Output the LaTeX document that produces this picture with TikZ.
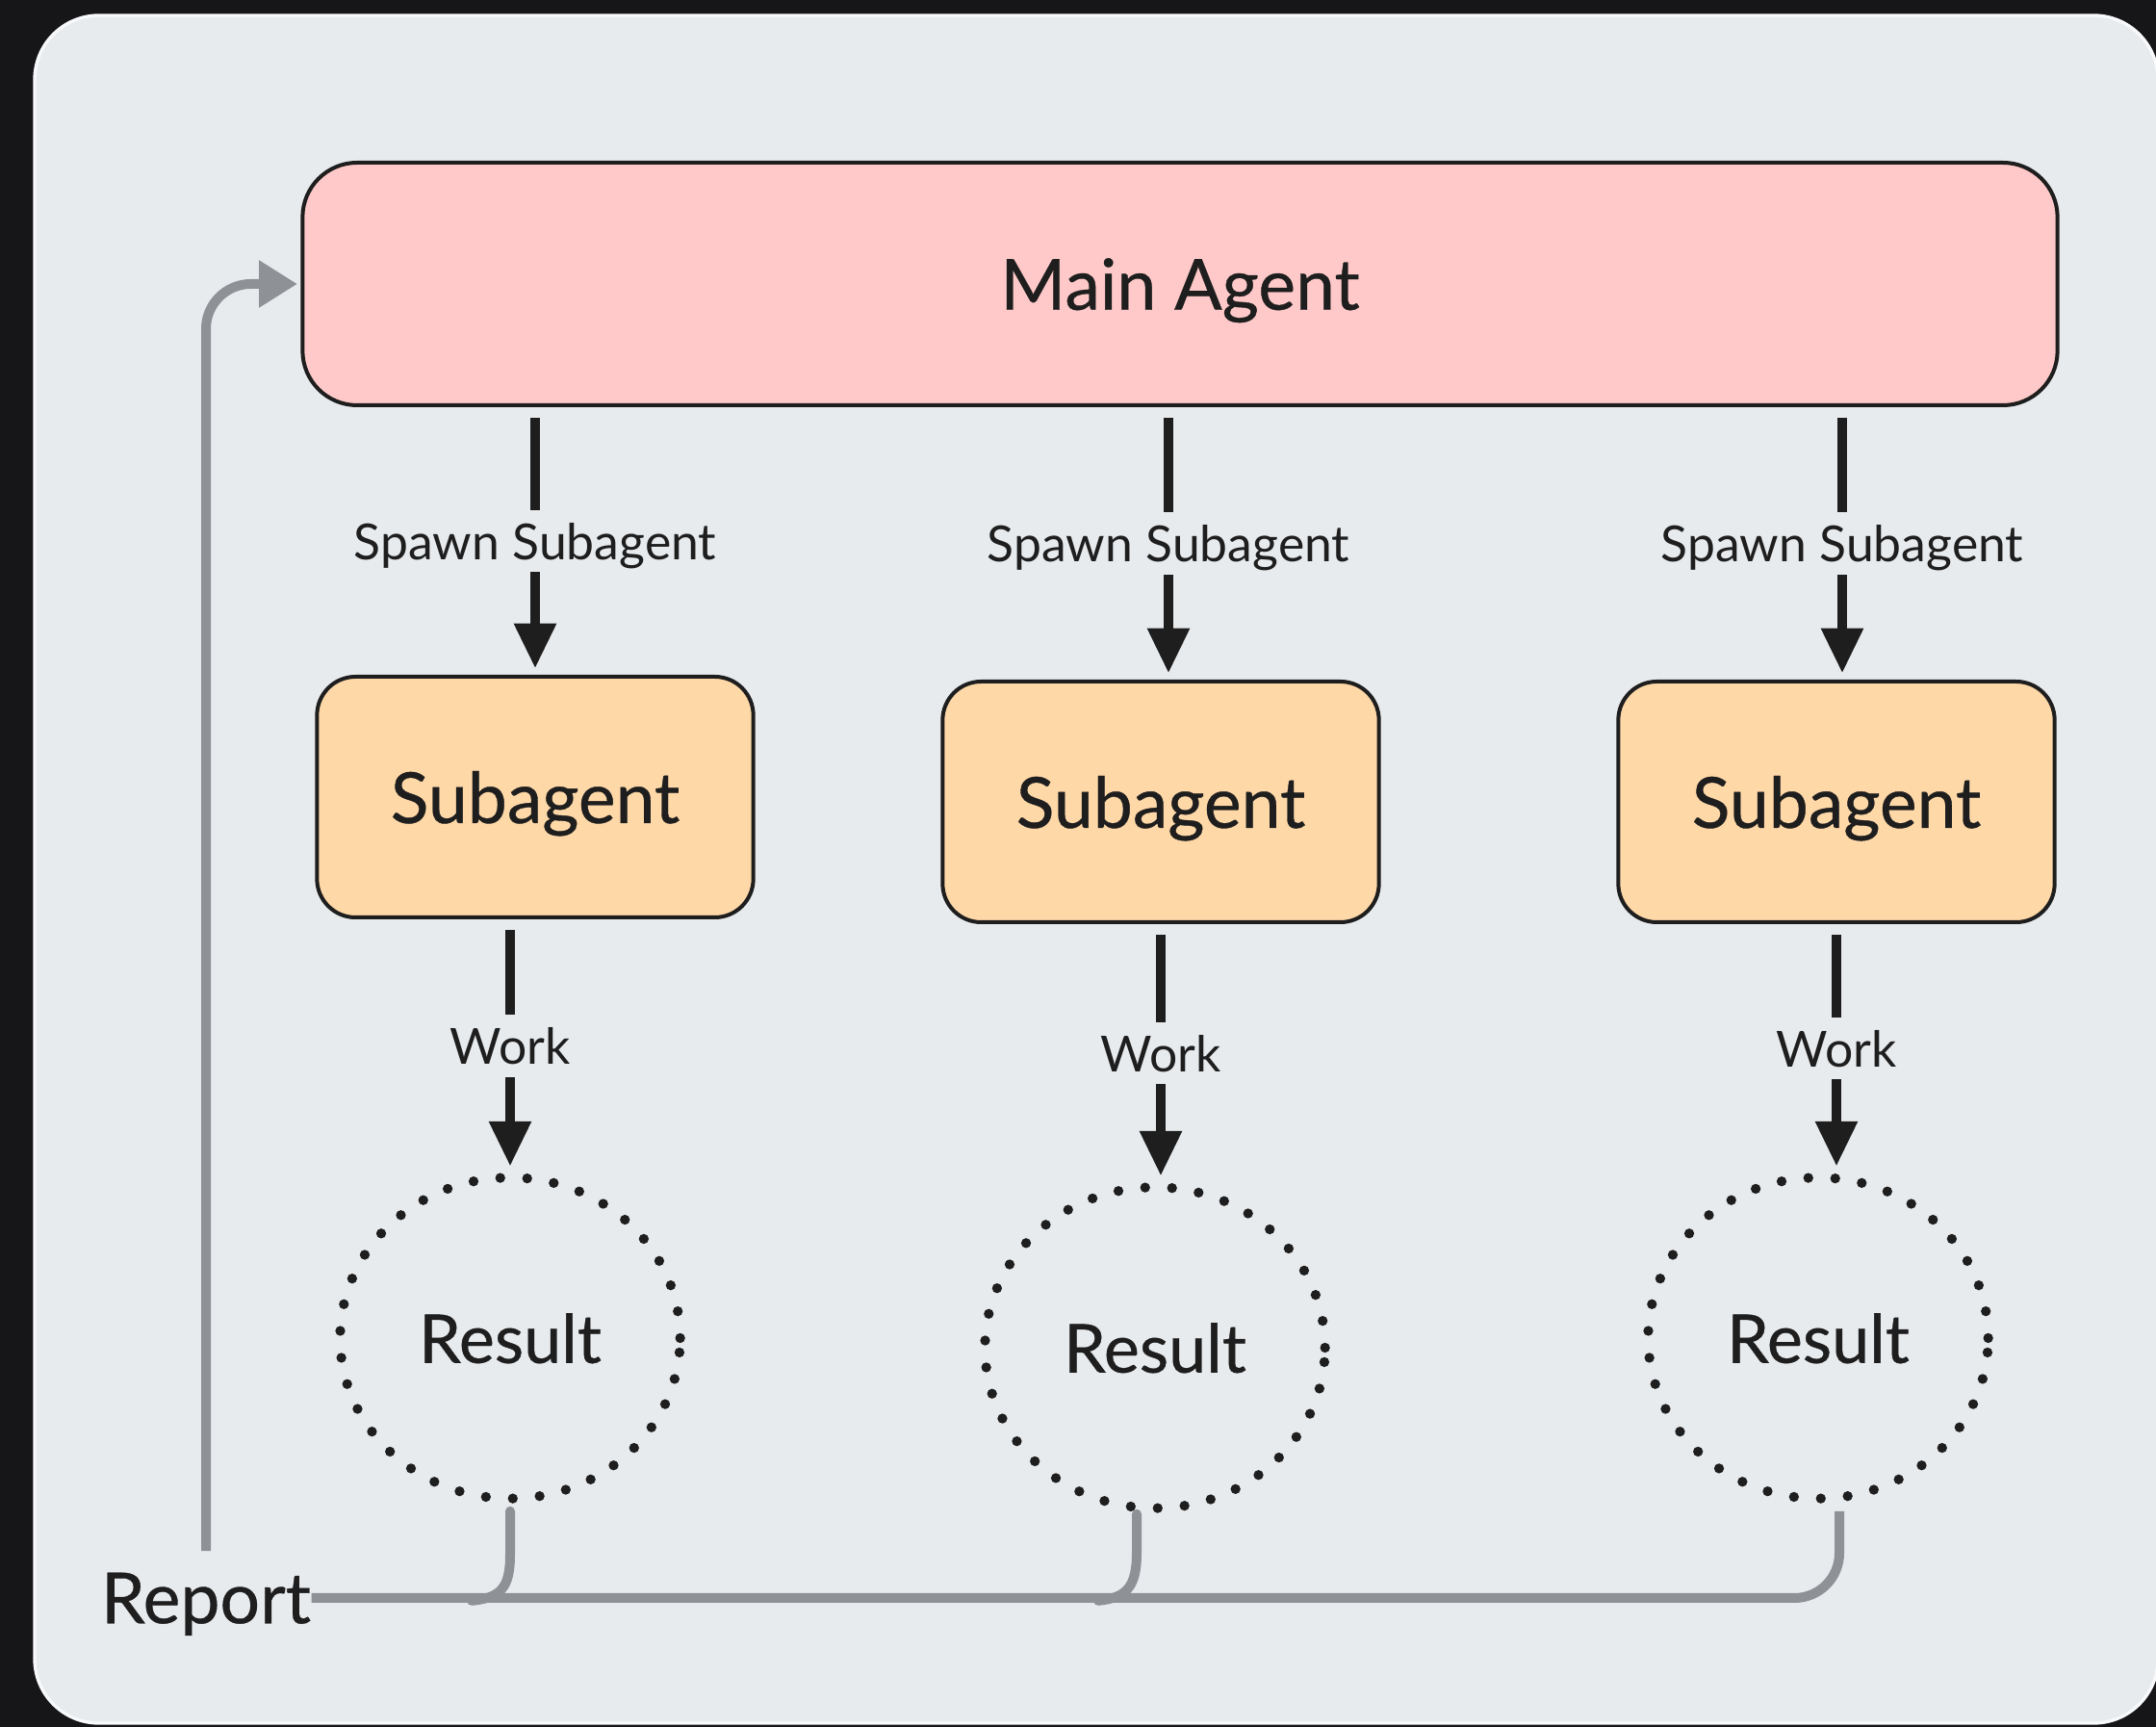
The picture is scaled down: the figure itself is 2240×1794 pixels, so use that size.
\documentclass[tikz,border=0pt]{standalone}
\usepackage{fontspec}
\setmainfont{Lato}
\newfontfamily\medfont{Lato}[FakeBold=0.5]
\usetikzlibrary{arrows.meta,shapes.geometric,calc}
\definecolor{bgdark}{HTML}{161618}
\definecolor{panel}{HTML}{E8EBEE}
\definecolor{pinkfill}{HTML}{FFC9C9}
\definecolor{orangefill}{HTML}{FFD8A8}
\definecolor{ink}{HTML}{1E1E1E}
\definecolor{greyline}{HTML}{8E9296}
\begin{document}
\begin{tikzpicture}[x=0.3pt,y=-0.3pt,
  mainbox/.style={draw=ink, line width=1.2pt, fill=pinkfill, rounded corners=17pt,
    minimum width=547pt, minimum height=75.6pt, inner sep=0pt, text=ink, text depth=0pt,
    font=\medfont\fontsize{22}{26}\selectfont},
  subbox/.style={draw=ink, line width=1.2pt, fill=orangefill, rounded corners=12pt,
    minimum width=136pt, minimum height=75pt, inner sep=0pt, text=ink, text depth=0pt,
    font=\medfont\fontsize{22}{26}\selectfont},
  resnode/.style={ellipse, draw=ink, line width=3.1pt, line cap=round,
    dash pattern=on 0pt off 8.4pt, minimum width=106pt, minimum height=100pt,
    inner sep=0pt, text=ink, text depth=0pt, font=\medfont\fontsize{21}{25}\selectfont},
  reportlbl/.style={inner sep=0pt, text=ink, text depth=0pt, font=\medfont\fontsize{22}{26}\selectfont},
  lbl/.style={fill=panel, inner sep=4pt, text=ink, text depth=0pt, font=\fontsize{15.5}{18}\selectfont},
  blackarr/.style={draw=ink, line width=3pt, -{Triangle[width=12.5pt,length=14pt]},
    shorten <=3.3pt, shorten >=2pt},
  rep/.style={draw=greyline, line width=3pt, line cap=round}
]
\useasboundingbox (0,0) rectangle (2240,1794);
\fill[bgdark] (0,0) rectangle (2240,1794);
\filldraw[fill=panel, draw=white!70!panel, line width=1pt, rounded corners=20pt] (36,16) rectangle (2242,1790);

\node[mainbox] (main) at (1226,295) {Main Agent};
\node[subbox] (sub1) at (556,828) {Subagent};
\node[subbox] (sub2) at (1206,833) {Subagent};
\node[subbox] (sub3) at (1908,833) {Subagent};
\node[resnode] (res1) at (530,1390) {Result};
\node[resnode] (res2) at (1200,1400) {Result};
\node[resnode] (res3) at (1889,1390) {Result};
\node[reportlbl] (report) at (214,1660) {Report};

\coordinate (s2) at ($(sub2.north)+(8,0)$);
\coordinate (s3) at ($(sub3.north)+(6,0)$);
\draw[blackarr] (sub1 |- main.south) -- node[lbl]{Spawn Subagent} (sub1.north);
\draw[blackarr] (s2 |- main.south) -- node[lbl]{Spawn Subagent} (s2);
\draw[blackarr] (s3 |- main.south) -- node[lbl]{Spawn Subagent} (s3);

\draw[blackarr] (res1 |- sub1.south) -- node[lbl]{Work} (res1.north);
\draw[blackarr] (sub2.south) -- node[lbl]{Work} (sub2 |- res2.north);
\draw[blackarr] (sub3.south) -- node[lbl]{Work} (sub3 |- res3.north);

\coordinate (c1) at ($(res1.south)+(0,8)$);
\coordinate (c2) at ($(res2.south)+(-19,1)$);
\coordinate (c3) at ($(res3.south)+(22,8)$);
\coordinate (rtop) at ($(report.north)+(0,-22)$);

\draw[rep, line cap=butt, rounded corners=14pt] (report.east) -- (c3 |- report.east) -- (c3);
\draw[rep] (c1) -- ($(c1)+(0,45)$) .. controls ($(c1)+(0,80)$) and ($(c1)+(-10,90)$) .. ($(c1)+(-40,93)$);
\draw[rep] (c2) -- ($(c2)+(0,40)$) .. controls ($(c2)+(0,75)$) and ($(c2)+(-10,87)$) .. ($(c2)+(-40,90)$);
\draw[rep, line cap=butt, -{Triangle[width=14pt,length=12pt]}, rounded corners=14pt, shorten >=1pt]
  (rtop) -- (rtop |- main.west) -- (main.west);
\end{tikzpicture}
\end{document}
